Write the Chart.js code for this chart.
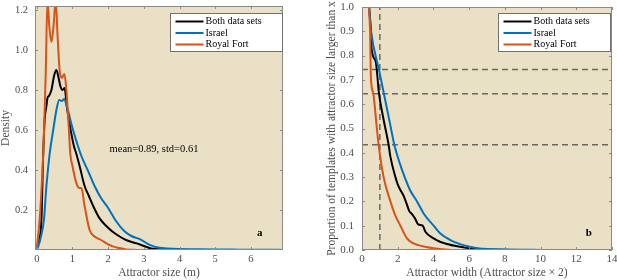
<!DOCTYPE html>
<html>
<head>
<meta charset="utf-8">
<script src="https://cdn.jsdelivr.net/npm/chart.js@4.4.1/dist/chart.umd.min.js"></script>
<style>
  html, body { margin: 0; padding: 0; background: #fff; }
  #wrap { position: relative; width: 617px; height: 280px; }
  canvas { position: absolute; top: 0; }
  #densityChart { left: 0; }
  #tailChart { left: 300px; }
</style>
</head>
<body>
<div id="wrap">
  <canvas id="densityChart" width="300" height="280"></canvas>
  <canvas id="tailChart" width="317" height="280"></canvas>
</div>
<script>
const seriesNames = ['Both data sets', 'Israel', 'Royal Fort'];

// panel a: density of attractor size (m)
const bothSizeX = [0, 0.05, 0.13, 0.18, 0.22, 0.27, 0.3, 0.34, 0.41, 0.49, 0.55, 0.6, 0.66, 0.72, 0.78, 0.84, 0.9, 0.97, 1.04, 1.11, 1.2, 1.34, 1.46, 1.58, 1.76, 1.95, 2.1, 2.3, 2.5, 2.8, 3.0, 3.2, 3.5, 4.0, 4.5];
const bothDensity = [0.01, 0.04, 0.15, 0.48, 0.65, 0.72, 0.76, 0.77, 0.8, 0.875, 0.9, 0.87, 0.82, 0.8, 0.81, 0.72, 0.65, 0.58, 0.52, 0.48, 0.42, 0.32, 0.27, 0.22, 0.158, 0.12, 0.095, 0.07, 0.05, 0.033, 0.02, 0.008, 0.003, 0.001, 0];
const israelSizeX = [0, 0.04, 0.12, 0.2, 0.27, 0.36, 0.46, 0.55, 0.63, 0.7, 0.77, 0.84, 0.9, 0.97, 1.1, 1.25, 1.45, 1.62, 1.8, 2.0, 2.2, 2.45, 2.65, 2.9, 3.15, 3.35, 3.65, 4.0, 4.5, 5.0, 5.5, 6.0, 6.5, 6.9];
const israelDensity = [0, 0.017, 0.07, 0.15, 0.32, 0.48, 0.6, 0.7, 0.75, 0.745, 0.755, 0.72, 0.68, 0.63, 0.55, 0.47, 0.39, 0.32, 0.26, 0.21, 0.15, 0.095, 0.07, 0.053, 0.027, 0.014, 0.008, 0.005, 0.004, 0.003, 0.002, 0.001, 0.001, 0.0005];
const royalSizeX = [0, 0.08, 0.16, 0.2, 0.25, 0.3, 0.35, 0.41, 0.47, 0.53, 0.58, 0.64, 0.7, 0.77, 0.83, 0.9, 0.94, 1.0, 1.07, 1.14, 1.2, 1.25, 1.34, 1.48, 1.62, 1.8, 2.0, 2.15, 2.3, 2.5, 2.8];
const royalDensity = [0.01, 0.15, 0.4, 0.57, 0.88, 1.25, 1.12, 1.04, 1.12, 1.25, 1.08, 0.9, 0.86, 0.88, 0.8, 0.6, 0.48, 0.42, 0.36, 0.32, 0.31, 0.31, 0.22, 0.1, 0.067, 0.05, 0.028, 0.017, 0.01, 0.003, 0];
const sizeTicks = [0, 1, 2, 3, 4, 5, 6];
const densityTicks = [0.2, 0.4, 0.6, 0.8, 1.0, 1.2];

// panel b: proportion of templates wider than x
const bothWidthX = [0.4, 0.5, 0.54, 0.77, 0.95, 1.2, 1.49, 1.59, 1.87, 2.0, 2.15, 2.35, 2.5, 2.65, 2.8, 2.97, 3.15, 3.4, 3.55, 4.01, 4.37, 4.66, 5.41, 6.16, 7.0, 8.0, 9.5];
const bothShare = [1.0, 0.9, 0.826, 0.775, 0.645, 0.54, 0.433, 0.384, 0.3, 0.27, 0.247, 0.22, 0.19, 0.16, 0.148, 0.13, 0.105, 0.1, 0.075, 0.048, 0.034, 0.027, 0.014, 0.005, 0.002, 0.001, 0];
const israelWidthX = [0.39, 0.5, 0.97, 1.25, 1.57, 1.81, 2.1, 2.39, 2.7, 3.08, 3.5, 4.01, 4.37, 4.95, 5.5, 5.97, 6.6, 7.5, 8.5, 10, 11.5, 13.1];
const israelShare = [1.0, 0.905, 0.735, 0.635, 0.52, 0.433, 0.36, 0.3, 0.245, 0.2, 0.145, 0.1, 0.069, 0.041, 0.024, 0.014, 0.006, 0.003, 0.001, 0.0005, 0.0002, 0];
const royalWidthX = [0.39, 0.45, 0.5, 0.63, 0.82, 0.93, 1.21, 1.59, 1.85, 2.15, 2.52, 2.8, 3.17, 3.6, 4.0, 4.5, 5.04];
const royalShare = [1.0, 0.905, 0.707, 0.645, 0.51, 0.433, 0.3, 0.2, 0.145, 0.1, 0.048, 0.03, 0.02, 0.012, 0.007, 0.003, 0];
const refShares = [0.743, 0.643, 0.433];
const refWidth = 1;
const widthTicks = [0, 2, 4, 6, 8, 10, 12, 14];
const shareTicks = [0, 0.1, 0.2, 0.3, 0.4, 0.5, 0.6, 0.7, 0.8, 0.9, 1.0];

const FONT = "'Liberation Serif', 'Times New Roman', serif";
const colors = ['#000000', '#0072BD', '#D95319'];
const tickColor = '#4d4d4d';

Chart.defaults.font.family = FONT;
Chart.defaults.color = tickColor;

const toPoints = (xs, ys) => xs.map((x, i) => ({ x: x, y: ys[i] }));

// beige axes, box with inward ticks, boxed legend and text notes (MATLAB look)
const matlabAxes = {
    id: 'matlabAxes',
    beforeDraw(chart) {
        const { ctx, chartArea: a } = chart;
        ctx.save();
        ctx.fillStyle = '#e9e0c6';
        ctx.fillRect(a.left, a.top, a.right - a.left, a.bottom - a.top);
        ctx.restore();
    },
    afterDraw(chart, args, opts) {
        const { ctx, chartArea: a, scales } = chart;
        ctx.save();
        ctx.strokeStyle = '#8a8a8a';
        ctx.lineWidth = 1;
        ctx.strokeRect(a.left + 0.5, a.top + 0.5, a.right - a.left - 1, a.bottom - a.top - 1);
        ctx.beginPath();
        scales.x.ticks.forEach(t => {
            const px = Math.round(scales.x.getPixelForValue(t.value)) + 0.5;
            ctx.moveTo(px, a.bottom); ctx.lineTo(px, a.bottom - 3);
            ctx.moveTo(px, a.top); ctx.lineTo(px, a.top + 3);
        });
        scales.y.ticks.forEach(t => {
            const py = Math.round(scales.y.getPixelForValue(t.value)) + 0.5;
            ctx.moveTo(a.left, py); ctx.lineTo(a.left + 3, py);
            ctx.moveTo(a.right, py); ctx.lineTo(a.right - 3, py);
        });
        ctx.stroke();

        // legend
        const items = chart.data.datasets.filter(d => d.label);
        const w = 112, h = 38;
        const x0 = Math.round(a.right - w - opts.legendRight) + 0.5;
        const y0 = Math.round(a.top + opts.legendTop) + 0.5;
        ctx.fillStyle = '#ffffff';
        ctx.fillRect(x0, y0, w, h);
        ctx.strokeStyle = '#707070';
        ctx.lineWidth = 1;
        ctx.strokeRect(x0, y0, w, h);
        ctx.font = `10px ${FONT}`;
        ctx.textBaseline = 'middle';
        ctx.textAlign = 'left';
        items.forEach((d, i) => {
            const y = y0 + 8 + i * 11.5;
            ctx.strokeStyle = d.borderColor;
            ctx.lineWidth = 2;
            ctx.beginPath();
            ctx.moveTo(x0 + 5, y);
            ctx.lineTo(x0 + 33, y);
            ctx.stroke();
            ctx.fillStyle = '#000';
            ctx.fillText(d.label, x0 + 35, y);
        });

        // notes
        (opts.notes || []).forEach(n => {
            ctx.font = n.font;
            ctx.fillStyle = '#000';
            ctx.textAlign = n.align;
            ctx.textBaseline = 'middle';
            ctx.fillText(n.text, scales.x.getPixelForValue(n.x), scales.y.getPixelForValue(n.y));
        });
        ctx.restore();
    }
};

function fixScale(size, tickValues) {
    return {
        afterBuildTicks: s => { s.ticks = tickValues.map(v => ({ value: v })); },
        afterFit: s => {
            if (s.isHorizontal()) s.height = size; else s.width = size;
            s.paddingLeft = 0; s.paddingRight = 0; s.paddingTop = 0; s.paddingBottom = 0;
        }
    };
}

function curve(label, points, color, order) {
    return {
        label: label,
        data: points,
        borderColor: color,
        borderWidth: 2,
        pointRadius: 0,
        fill: false,
        cubicInterpolationMode: 'monotone',
        order: order
    };
}

function dashed(points) {
    return {
        label: '',
        data: points,
        borderColor: '#6b6a62',
        borderWidth: 1.5,
        borderDash: [6, 4],
        pointRadius: 0,
        fill: false,
        order: 5
    };
}

const ctxDensity = document.getElementById('densityChart').getContext('2d');
new Chart(ctxDensity, {
    type: 'line',
    data: {
        datasets: [
            curve(seriesNames[0], toPoints(bothSizeX, bothDensity), colors[0], 3),
            curve(seriesNames[1], toPoints(israelSizeX, israelDensity), colors[1], 2),
            curve(seriesNames[2], toPoints(royalSizeX, royalDensity), colors[2], 1)
        ]
    },
    options: {
        responsive: false,
        animation: false,
        devicePixelRatio: 1,
        layout: { padding: { left: 0, right: 17, top: 6, bottom: 0 } },
        scales: {
            x: {
                type: 'linear',
                min: -0.05,
                max: 6.9,
                ...fixScale(30, sizeTicks),
                grid: { display: false, drawTicks: false },
                border: { display: false },
                ticks: { padding: 3, font: { size: 10.5 }, color: tickColor, callback: v => String(v) },
                title: { display: true, text: 'Attractor size (m)', font: { size: 11.5, lineHeight: 1 }, padding: { top: 0, bottom: 1 }, color: tickColor }
            },
            y: {
                type: 'linear',
                min: 0,
                max: 1.22,
                ...fixScale(35, densityTicks),
                grid: { display: false, drawTicks: false },
                border: { display: false },
                ticks: { padding: 7, font: { size: 10.5 }, color: tickColor, callback: v => v.toFixed(1) },
                title: { display: true, text: 'Density', font: { size: 11.5, lineHeight: 1 }, padding: { top: 0, bottom: 0 }, color: tickColor }
            }
        },
        plugins: {
            legend: { display: false },
            tooltip: { enabled: false },
            matlabAxes: {
                legendRight: 1,
                legendTop: 7,
                notes: [
                    { text: 'mean=0.89, std=0.61', x: 2.04, y: 0.505, font: `10.5px ${FONT}`, align: 'left' },
                    { text: 'a', x: 6.25, y: 0.085, font: `bold 11px ${FONT}`, align: 'center' }
                ]
            }
        }
    },
    plugins: [matlabAxes]
});

const ctxTail = document.getElementById('tailChart').getContext('2d');
const xLo = widthTicks[0], xHi = widthTicks[widthTicks.length - 1];
new Chart(ctxTail, {
    type: 'line',
    data: {
        datasets: [
            curve(seriesNames[0], toPoints(bothWidthX, bothShare), colors[0], 3),
            curve(seriesNames[1], toPoints(israelWidthX, israelShare), colors[1], 2),
            curve(seriesNames[2], toPoints(royalWidthX, royalShare), colors[2], 1),
            ...refShares.map(v => dashed([{ x: xLo, y: v }, { x: xHi, y: v }])),
            dashed([{ x: refWidth, y: 0 }, { x: refWidth, y: 1 }])
        ]
    },
    options: {
        responsive: false,
        animation: false,
        devicePixelRatio: 1,
        layout: { padding: { left: 0, right: 5, top: 7, bottom: 0 } },
        scales: {
            x: {
                type: 'linear',
                min: xLo,
                max: xHi,
                ...fixScale(30, widthTicks),
                grid: { display: false, drawTicks: false },
                border: { display: false },
                ticks: { padding: 3, font: { size: 11 }, color: tickColor, callback: v => String(v) },
                title: { display: true, text: 'Attractor width (Attractor size \u00d7 2)', font: { size: 11.5, lineHeight: 1 }, padding: { top: 0, bottom: 1 }, color: tickColor }
            },
            y: {
                type: 'linear',
                min: 0,
                max: 1,
                ...fixScale(62, shareTicks),
                grid: { display: false, drawTicks: false },
                border: { display: false },
                ticks: { padding: 8, font: { size: 11 }, color: tickColor, callback: v => v.toFixed(1) },
                title: { display: true, text: 'Proportion of templates with attractor size larger than x', font: { size: 11.5, lineHeight: 1 }, padding: { top: 26, bottom: 0 }, color: tickColor }
            }
        },
        plugins: {
            legend: { display: false },
            tooltip: { enabled: false },
            matlabAxes: {
                legendRight: 2,
                legendTop: 6,
                notes: [
                    { text: 'b', x: 12.7, y: 0.071, font: `bold 11px ${FONT}`, align: 'center' }
                ]
            }
        }
    },
    plugins: [matlabAxes]
});
</script>
</body>
</html>
